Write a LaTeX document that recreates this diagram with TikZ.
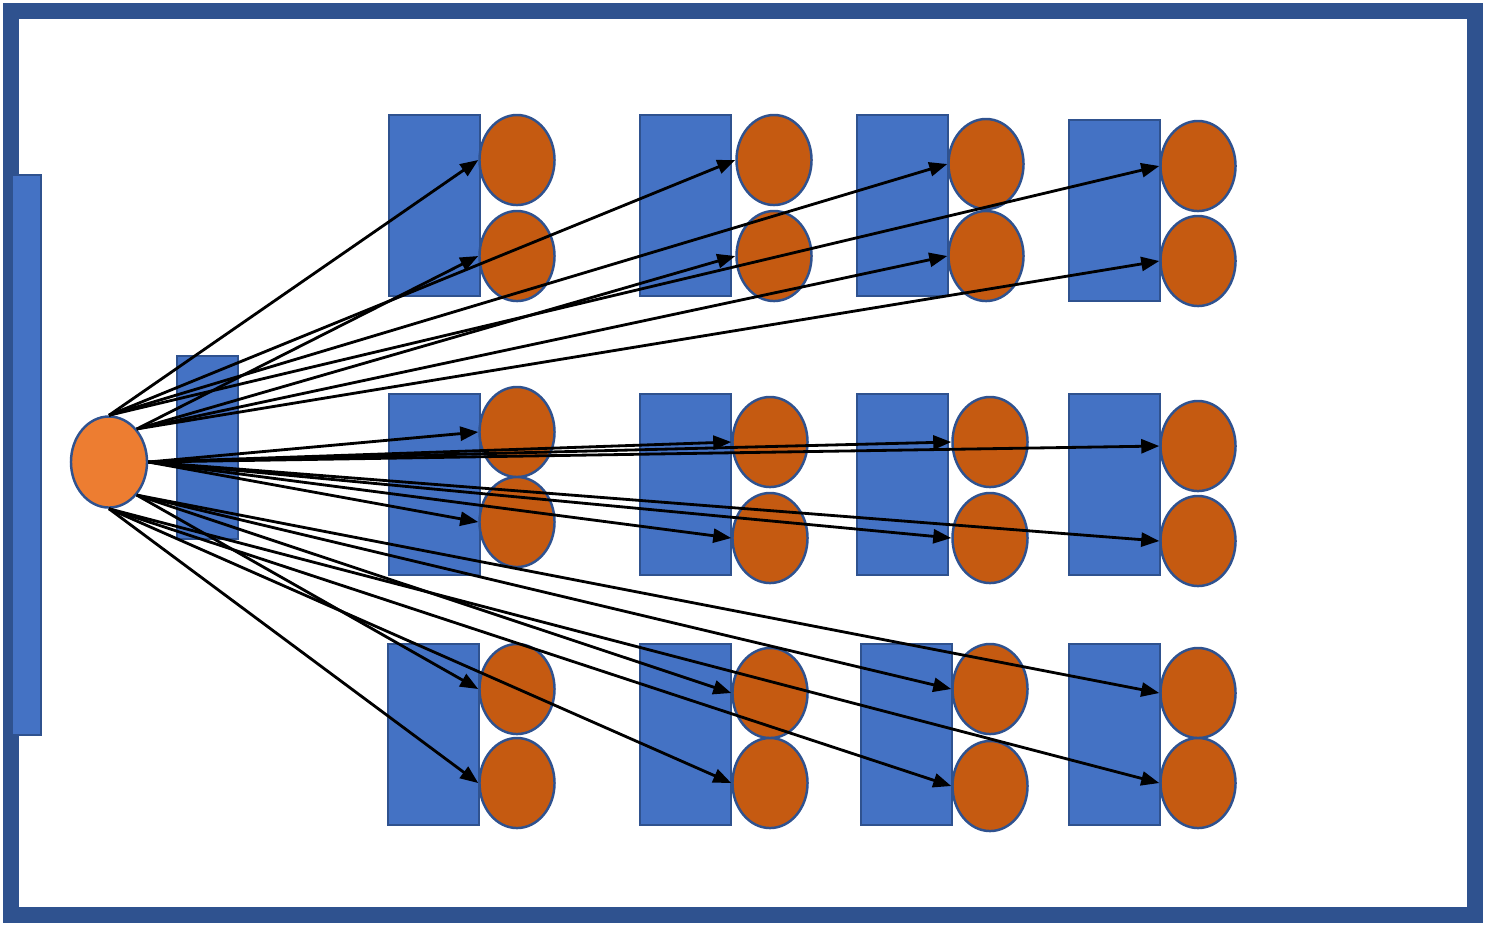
\documentclass[tikz,border=0pt]{standalone}
\usepackage{tikz}
\usetikzlibrary{arrows.meta,shapes,positioning}
\definecolor{lineblue}{RGB}{47,82,143}
\definecolor{deskblue}{RGB}{68,114,196}
\definecolor{pupil}{RGB}{197,90,17}
\definecolor{tutor}{RGB}{237,125,49}
\tikzset{>={Triangle[width=1.4mm,length=1.8mm]}}
\tikzset{desk/.style={shape=rectangle, draw=lineblue, fill=deskblue, line width=.7pt,
    inner sep=0, minimum width=.91cm, minimum height=1.81cm}}
\tikzset{pupil/.style={shape=ellipse, draw=lineblue, fill=pupil, line width=.7pt,
    inner sep=0, minimum width=.75cm, minimum height=.9cm}}

\begin{document}
\begin{tikzpicture}[x=0.01cm, y=-0.01cm]
  \useasboundingbox (0,0) rectangle (1486,926);
    \tikzstyle{every node}=[font=\footnotesize]

    %%%% room and front
    \node[draw=lineblue, line width=.16cm, minimum width=14.64cm, minimum height=9.04cm](room) at (743,463) {};
    \node[desk, minimum width=.29cm, minimum height=5.6cm](board) at (26.5,455) {};
    \node[desk, minimum width=.61cm, minimum height=1.83cm](lectern) at (207.5,447.5) {};
    \node[pupil, fill=tutor, minimum width=.76cm, minimum height=.91cm](teacher) at (109,462) {};

    %%%% desks
    \node[desk](d11) at (434.5,205.5) {};
    \node[desk](d12) at (685.5,205.5) {};
    \node[desk](d13) at (902.5,205.5) {};
    \node[desk](d14) at (1114.5,210.5) {};
    \node[desk](d21) at (434.5,484.5) {};
    \node[desk](d22) at (685.5,484.5) {};
    \node[desk](d23) at (902.5,484.5) {};
    \node[desk](d24) at (1114.5,484.5) {};
    \node[desk](d31) at (433.5,734.5) {};
    \node[desk](d32) at (685.5,734.5) {};
    \node[desk](d33) at (906.5,734.5) {};
    \node[desk](d34) at (1114.5,734.5) {};

    %%%% pupils
    \node[pupil](p11a) at (517,160) {};
    \node[pupil](p11b) at (517,256) {};
    \node[pupil](p12a) at (774,160) {};
    \node[pupil](p12b) at (774,256) {};
    \node[pupil](p13a) at (986,164) {};
    \node[pupil](p13b) at (986,256) {};
    \node[pupil](p14a) at (1198,166) {};
    \node[pupil](p14b) at (1198,261) {};
    \node[pupil](p21a) at (517,432) {};
    \node[pupil](p21b) at (517,522) {};
    \node[pupil](p22a) at (770,442) {};
    \node[pupil](p22b) at (770,538) {};
    \node[pupil](p23a) at (990,442) {};
    \node[pupil](p23b) at (990,538) {};
    \node[pupil](p24a) at (1198,446) {};
    \node[pupil](p24b) at (1198,541) {};
    \node[pupil](p31a) at (517,689) {};
    \node[pupil](p31b) at (517,783) {};
    \node[pupil](p32a) at (770,693) {};
    \node[pupil](p32b) at (770,783) {};
    \node[pupil](p33a) at (990,689) {};
    \node[pupil](p33b) at (990,786) {};
    \node[pupil](p34a) at (1198,693) {};
    \node[pupil](p34b) at (1198,783) {};

    %%%% front row
    \draw [->][draw=black, thick] (teacher.north) to (p11a.west);
    \draw [->][draw=black, thick] (teacher.north) to (p12a.west);
    \draw [->][draw=black, thick] (teacher.north) to (p13a.west);
    \draw [->][draw=black, thick] (teacher.north) to (p14a.west);
    \draw [->][draw=black, thick] (teacher.north east) to (p11b.west);
    \draw [->][draw=black, thick] (teacher.north east) to (p12b.west);
    \draw [->][draw=black, thick] (teacher.north east) to (p13b.west);
    \draw [->][draw=black, thick] (teacher.north east) to (p14b.west);

    %%%% middle row
    \draw [->][draw=black, thick] (teacher.east) to (p21a.west);
    \draw [->][draw=black, thick] (teacher.east) to (p21b.west);
    \draw [->][draw=black, thick] (teacher.east) to (p22a.west);
    \draw [->][draw=black, thick] (teacher.east) to (p22b.west);
    \draw [->][draw=black, thick] (teacher.east) to (p23a.west);
    \draw [->][draw=black, thick] (teacher.east) to (p23b.west);
    \draw [->][draw=black, thick] (teacher.east) to (p24a.west);
    \draw [->][draw=black, thick] (teacher.east) to (p24b.west);

    %%%% back row
    \draw [->][draw=black, thick] (teacher.south east) to (p31a.west);
    \draw [->][draw=black, thick] (teacher.south east) to (p32a.west);
    \draw [->][draw=black, thick] (teacher.south east) to (p33a.west);
    \draw [->][draw=black, thick] (teacher.south east) to (p34a.west);
    \draw [->][draw=black, thick] (teacher.south) to (p31b.west);
    \draw [->][draw=black, thick] (teacher.south) to (p32b.west);
    \draw [->][draw=black, thick] (teacher.south) to (p33b.west);
    \draw [->][draw=black, thick] (teacher.south) to (p34b.west);

  \end{tikzpicture}
\end{document}
